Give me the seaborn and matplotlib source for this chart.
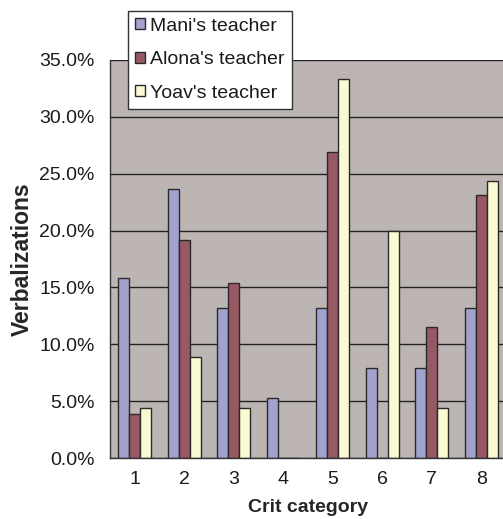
import matplotlib
matplotlib.use("Agg")
import matplotlib.pyplot as plt
import seaborn as sns
import pandas as pd
from matplotlib.ticker import PercentFormatter, FixedLocator, NullFormatter

categories = ["1", "2", "3", "4", "5", "6", "7", "8"]
teachers = ["Mani's teacher", "Alona's teacher", "Yoav's teacher"]
mani = [15.8, 23.7, 13.2, 5.3, 13.2, 7.9, 7.9, 13.2]
alona = [3.9, 19.2, 15.4, 0.0, 26.9, 0.0, 11.5, 23.1]
yoav = [4.4, 8.9, 4.4, 0.0, 33.3, 20.0, 4.4, 24.4]

colors = ["#9a9ad6", "#a24f5f", "#ffffcc"]

rows = []
for t, vals in zip(teachers, [mani, alona, yoav]):
    for c, v in zip(categories, vals):
        rows.append({"cat": c, "teacher": t, "pct": v})
df = pd.DataFrame(rows)

sns.set_style("white")
plt.rcParams["font.family"] = ["Liberation Sans", "DejaVu Sans"]
plt.rcParams["text.color"] = "#1a1a1a"

fig = plt.figure(figsize=(5.03, 5.19), dpi=100)
ax = fig.add_axes([0.2187, 0.1175, 0.787, 0.7669])
ax.set_facecolor("#bdb5b3")

sns.barplot(data=df, x="cat", y="pct", hue="teacher", hue_order=teachers,
            palette=colors, width=0.667, gap=0, edgecolor="#2a2a2a",
            linewidth=1.0, ax=ax)

ax.set_xlim(-0.5, 7.5)
ax.set_ylim(0, 35)
ax.yaxis.set_major_locator(FixedLocator([0, 5, 10, 15, 20, 25, 30, 35]))
ax.yaxis.set_major_formatter(PercentFormatter(decimals=1))
ax.grid(axis="y", color="#222222", linewidth=1.0)
ax.set_axisbelow(True)

# category boundary ticks, labels centred without marks
ax.xaxis.set_minor_locator(FixedLocator([i - 0.5 for i in range(9)]))
ax.xaxis.set_minor_formatter(NullFormatter())
ax.tick_params(axis="x", which="major", length=0, pad=9, labelsize=14, labelcolor="#1a1a1a")
ax.tick_params(axis="x", which="minor", length=5, width=1, color="#333333", direction="out")
ax.tick_params(axis="y", length=5, width=1, color="#333333", direction="out",
               labelsize=14, labelcolor="#1a1a1a", pad=6)

for s in ["top", "right"]:
    ax.spines[s].set_visible(False)
for s in ["left", "bottom"]:
    ax.spines[s].set_color("#333333")
    ax.spines[s].set_linewidth(1.0)

ax.set_xlabel("Crit category", fontsize=14, fontweight="bold", labelpad=8)
ax.set_ylabel("Verbalizations", fontsize=16.5, fontweight="bold", labelpad=4)

handles, labels = ax.get_legend_handles_labels()
ax.get_legend().remove()
leg = fig.legend(handles, labels, loc="upper left", bbox_to_anchor=(0.2545, 0.979),
                 bbox_transform=fig.transFigure, fontsize=14, frameon=True,
                 fancybox=False, edgecolor="#333333", framealpha=1,
                 handlelength=0.5, handleheight=0.5, handletextpad=0.3,
                 labelspacing=0.85, borderpad=0.35, borderaxespad=0)
leg.get_frame().set_linewidth(1.0)

fig.savefig("out.png", dpi=100)
